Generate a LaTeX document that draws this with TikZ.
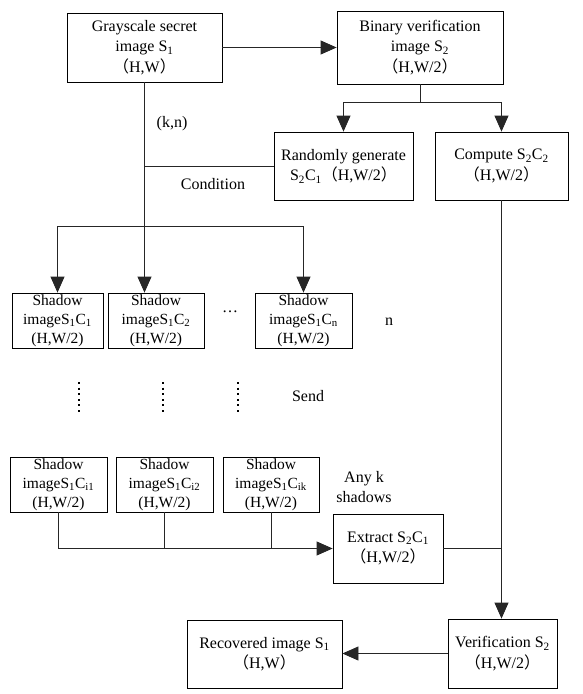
\documentclass[tikz,border=0pt]{standalone}
\usepackage{fontspec}
\setmainfont{Liberation Serif}
\newfontfamily\cjk{Noto Sans CJK SC}
\usetikzlibrary{arrows.meta}
\newcommand\LPar{{\cjk （}}
\newcommand\RPar{{\cjk ）}}
\newcommand\sbs[1]{\textsubscript{#1}}
\begin{document}
\begin{tikzpicture}[x=1pt,y=-1pt,
  box/.style={draw, line width=0.8pt, align=center, inner sep=0pt, font=\fontsize{16}{20.5}\selectfont},
  sbox/.style={draw, line width=0.8pt, align=center, inner sep=0pt, font=\fontsize{15.5}{19}\selectfont, minimum height=55pt},
  lbl/.style={inner sep=0pt, align=center, font=\fontsize{16}{20}\selectfont},
  ln/.style={line width=0.8pt, draw=black!85},
  arr/.style={ln, -{Triangle[length=16pt,width=14pt]}},
  dots/.style={line width=2.2pt, dash pattern=on 2pt off 3.6pt}]
\useasboundingbox (0,0) rectangle (582,694);
% main boxes
\node[box, minimum width=155pt, minimum height=69pt] (b1) at (144.5,47.5) {Grayscale secret\\image S\sbs{1}\\\LPar H,W\RPar};
\node[box, minimum width=166pt, minimum height=73pt] (b2) at (420,47.5) {Binary verification\\image S\sbs{2}\\\LPar H,W/2\RPar};
\node[box, minimum width=139pt, minimum height=68pt] (rand) at (343.5,166) {Randomly generate\\S\sbs{2}C\sbs{1}\LPar H,W/2\RPar};
\node[box, minimum width=133pt, minimum height=68pt] (comp) at (501.5,166) {Compute S\sbs{2}C\sbs{2}\\\LPar H,W/2\RPar};
% shadow row 1
\node[sbox, minimum width=91pt] (c1) at (57.5,320.5) {Shadow\\imageS\sbs{1}C\sbs{1}\\(H,W/2)};
\node[sbox, minimum width=96pt] (c2) at (156,320.5) {Shadow\\imageS\sbs{1}C\sbs{2}\\(H,W/2)};
\node[sbox, minimum width=97pt] (cn) at (303.5,320.5) {Shadow\\imageS\sbs{1}C\sbs{n}\\(H,W/2)};
% shadow row 2
\node[sbox, minimum width=97pt] (ci1) at (58.5,484.5) {Shadow\\imageS\sbs{1}C\sbs{i1}\\(H,W/2)};
\node[sbox, minimum width=97pt] (ci2) at (164.5,484.5) {Shadow\\imageS\sbs{1}C\sbs{i2}\\(H,W/2)};
\node[sbox, minimum width=96pt] (cik) at (271,484.5) {Shadow\\imageS\sbs{1}C\sbs{ik}\\(H,W/2)};
% bottom boxes
\node[box, minimum width=110pt, minimum height=69pt] (ext) at (388,548.5) {Extract S\sbs{2}C\sbs{1}\\\LPar H,W/2\RPar};
\node[box, minimum width=109pt, minimum height=69pt] (ver) at (502.5,653.5) {Verification S\sbs{2}\\\LPar H,W/2\RPar};
\node[box, minimum width=155pt, minimum height=68pt] (rec) at (264.5,654) {Recovered image S\sbs{1}\\\LPar H,W\RPar};
% labels
\node[lbl] (kn) at (172,124) {(k,n)};
\node[lbl] (cond) at (213,184) {Condition};
\node[lbl] (ell) at (230,312) {…};
\node[lbl] (nn) at (389,322) {n};
\node[lbl] (send) at (308,396) {Send};
\node[lbl] (anyk) at (364,487) {Any k\\shadows};
% connectors
\coordinate (j1) at (420,102);
\coordinate (j2) at (144.5,226);
\draw[arr] (b1.east) -- (b2.west);
\draw[ln] (b2.south) -- (j1);
\draw[arr] (j1) -| (rand.north);
\draw[arr] (j1) -| (comp.north);
\draw[arr] (b1.south) -- (b1.south |- c2.north);
\draw[ln] (b1.south |- rand.west) -- (rand.west);
\draw[arr] (j2) -| (c1.north);
\draw[arr] (j2) -| (cn.north);
\draw[arr] (comp.south) -- (comp.south |- ver.north);
\draw[ln] (ext.east) -- (ext.east -| comp.south);
\draw[arr] (ci1.south) |- (ext.west);
\draw[ln] (ci2.south) -- (ci2.south |- ext.west);
\draw[ln] (cik.south) -- (cik.south |- ext.west);
\draw[arr] (ver.west) -- (ver.west -| rec.east);
% dotted columns
\coordinate (d1a) at (79,382); \coordinate (d1b) at (79,412);
\coordinate (d2a) at (163,382); \coordinate (d2b) at (163,412);
\coordinate (d3a) at (238,382); \coordinate (d3b) at (238,412);
\draw[dots] (d1a) -- (d1b);
\draw[dots] (d2a) -- (d2b);
\draw[dots] (d3a) -- (d3b);
\end{tikzpicture}
\end{document}
